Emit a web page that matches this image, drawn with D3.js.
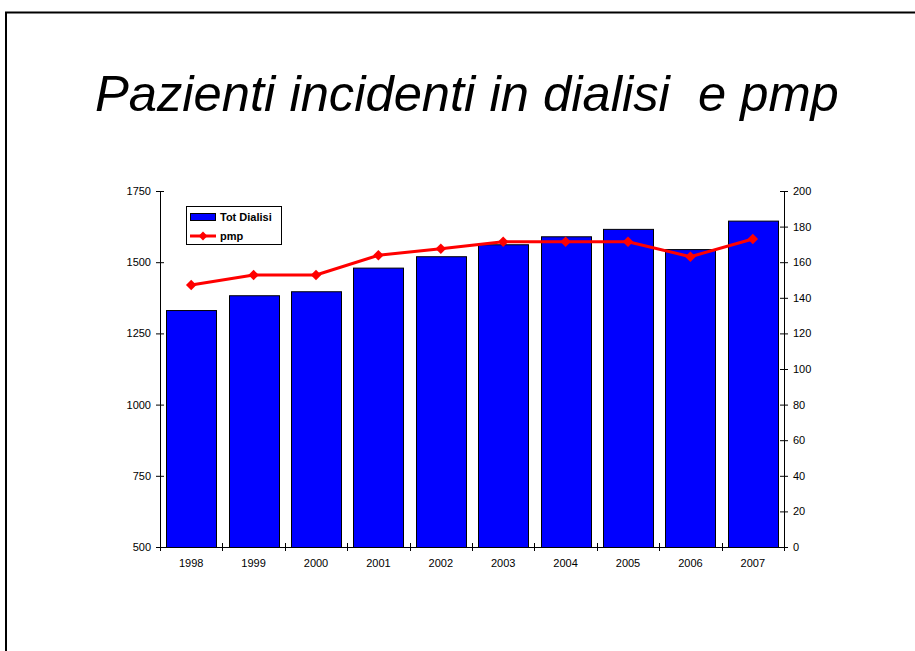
<!DOCTYPE html>
<html><head><meta charset="utf-8">
<script src="https://cdn.jsdelivr.net/npm/d3@7"></script>
<style>html,body{margin:0;padding:0;background:#fff;}svg{display:block;}</style>
</head><body>
<script>
const years = ["1998","1999","2000","2001","2002","2003","2004","2005","2006","2007"];
const totDialisi = [1332,1384,1398,1481,1521,1563,1591,1617,1546,1646];
const pmp = [147.2,152.8,152.8,163.9,167.6,171.5,171.5,171.5,163.1,173.0];
const leftTicks = [500,750,1000,1250,1500,1750];
const rightTicks = [0,20,40,60,80,100,120,140,160,180,200];
const title = "Pazienti incidenti in dialisi  e pmp";

const W = 915, H = 651;
const svg = d3.select("body").append("svg").attr("width", W).attr("height", H);
svg.append("rect").attr("x",6).attr("y",12.5).attr("width",W+10).attr("height",H+10)
  .attr("fill","none").attr("stroke","#000").attr("stroke-width",2);

svg.append("text").attr("x",95).attr("y",111)
  .attr("font-family","'Liberation Sans', Arial, sans-serif").attr("font-style","italic")
  .attr("font-size",50.7).attr("xml:space","preserve").style("white-space","pre")
  .text(title);

const L = 160, R = 784, T = 191, B = 547;
const xb = d3.scaleBand().domain(years).range([L,R]);
const yL = d3.scaleLinear().domain([500,1750]).range([B,T]);
const yR = d3.scaleLinear().domain([0,200]).range([B,T]);

const font = "'Liberation Sans', Arial, sans-serif";

// bars
svg.append("g").selectAll("rect").data(years).join("rect")
  .attr("x", d => Math.round(xb(d) + (xb.bandwidth()-50)/2) + 0.5)
  .attr("width", 50)
  .attr("y", (d,i) => yL(totDialisi[i]) + 0.5)
  .attr("height", (d,i) => B - yL(totDialisi[i]))
  .attr("fill","#0000FF").attr("stroke","#000").attr("stroke-width",1);

// axes
function styleAxis(g){
  g.select(".domain").attr("stroke","#000");
  g.selectAll(".tick line").attr("stroke","#000");
  g.selectAll("text").attr("font-family",font).attr("font-size",11).attr("fill","#000");
}
const gl = svg.append("g").attr("transform",`translate(${L},0)`)
  .call(d3.axisLeft(yL).tickValues(leftTicks).tickSize(0).tickPadding(9).tickFormat(d3.format("d")));
gl.selectAll(".tick line").remove();
gl.selectAll(".tick").append("line").attr("x1",-4).attr("x2",4);
styleAxis(gl);
gl.select(".domain").attr("d",`M0.5,${T}V${B}`);

const gr = svg.append("g").attr("transform",`translate(${R},0)`)
  .call(d3.axisRight(yR).tickValues(rightTicks).tickSize(0).tickPadding(9));
gr.selectAll(".tick").append("line").attr("x1",-4).attr("x2",4);
styleAxis(gr);
gr.select(".domain").attr("d",`M0.5,${T}V${B}`);

const gb = svg.append("g").attr("transform",`translate(0,${B})`)
  .call(d3.axisBottom(xb).tickSize(0).tickPadding(12));
styleAxis(gb);
gb.select(".domain").attr("d",`M${L},0.5H${R}`);
const bounds = years.map(d => xb(d)).concat([R]);
gb.selectAll(".bt").data(bounds).join("line")
  .attr("x1",d=>Math.round(d)+0.5).attr("x2",d=>Math.round(d)+0.5).attr("y1",-4).attr("y2",4).attr("stroke","#000");

// line
const cx = d => xb(d) + xb.bandwidth()/2;
const line = d3.line().x((d,i)=>cx(years[i])).y(d=>yR(d));
svg.append("path").datum(pmp).attr("d",line).attr("fill","none").attr("stroke","#FF0000").attr("stroke-width",3).attr("stroke-linejoin","round");
const diamond = d3.symbol().type(d3.symbolDiamond2).size(70);
svg.append("g").selectAll("path").data(pmp).join("path")
  .attr("transform",(d,i)=>`translate(${cx(years[i])},${yR(d)})`)
  .attr("d",diamond).attr("fill","#FF0000");

// legend
const lg = svg.append("g");
lg.append("rect").attr("x",186.5).attr("y",206.5).attr("width",95).attr("height",38).attr("fill","#fff").attr("stroke","#000").attr("stroke-width",1);
lg.append("rect").attr("x",190.5).attr("y",213.5).attr("width",25).attr("height",7).attr("fill","#0000FF").attr("stroke","#000");
lg.append("text").attr("x",220).attr("y",221).attr("font-family",font).attr("font-weight","bold").attr("font-size",11).text("Tot Dialisi");
lg.append("line").attr("x1",190).attr("x2",216).attr("y1",236).attr("y2",236).attr("stroke","#FF0000").attr("stroke-width",3);
lg.append("path").attr("transform","translate(203,236)").attr("d",d3.symbol().type(d3.symbolDiamond2).size(50)()).attr("fill","#FF0000");
lg.append("text").attr("x",220).attr("y",240).attr("font-family",font).attr("font-weight","bold").attr("font-size",11).text("pmp");
</script>
</body></html>
